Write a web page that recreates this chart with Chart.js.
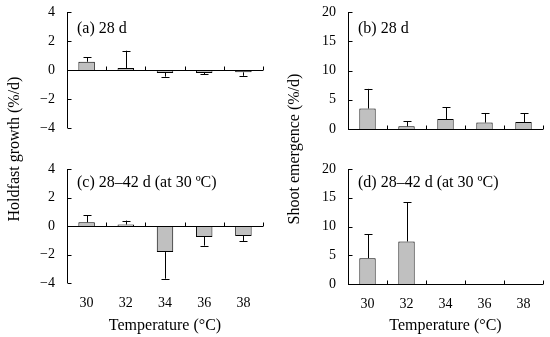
<!DOCTYPE html>
<html>
<head>
<meta charset="utf-8">
<script src="https://cdn.jsdelivr.net/npm/chart.js@4/dist/chart.umd.min.js"></script>
<style>
  body { margin: 0; background: #fff; }
  #wrap { position: relative; width: 550px; height: 337px; font-family: "Liberation Serif", "Times New Roman", serif; }
  canvas { position: absolute; }
  .ytitle { position: absolute; width: 200px; text-align: center; font-size: 16px; line-height: 20px; transform: rotate(-90deg); color: #000; }
</style>
</head>
<body>
<div id="wrap">
  <canvas id="ca" width="275" height="160" style="left:0;top:0"></canvas>
  <canvas id="cb" width="275" height="160" style="left:275px;top:0"></canvas>
  <canvas id="cc" width="275" height="177" style="left:0;top:160px"></canvas>
  <canvas id="cd" width="275" height="177" style="left:275px;top:160px"></canvas>
  <div class="ytitle" style="left:-86px;top:139px">Holdfast growth (%/d)</div>
  <div class="ytitle" style="left:194px;top:139px">Shoot emergence (%/d)</div>
</div>
<script>
// temperatures (°C)
const temps = ['30', '32', '34', '36', '38'];

// holdfast growth (%/d) and error bar ends
const holdfast28 = [0.57, 0.14, -0.2, -0.2, -0.16];
const holdfast28Err = [0.87, 1.33, -0.46, -0.3, -0.4];
const holdfast42 = [0.26, 0.1, -1.83, -0.77, -0.7];
const holdfast42Err = [0.75, 0.38, -3.7, -1.38, -1.05];

// shoot emergence (%/d) and error bar ends
const shoot28 = [3.5, 0.46, 1.7, 1.1, 1.2];
const shoot28Err = [6.86, 1.37, 3.7, 2.74, 2.7];
const shoot42 = [4.5, 7.4, 0, 0, 0];
const shoot42Err = [8.66, 14.2, null, null, null];

const FONT = 'Liberation Serif';

// error bars, axes lines and the panel label
const panelPlugin = {
    id: 'panel',
    afterDatasetsDraw(chart) {
        const ctx = chart.ctx;
        const area = chart.chartArea;
        const xs = chart.scales.x;
        const ys = chart.scales.y;
        const cfg = chart.options.plugins.panel;
        const meta = chart.getDatasetMeta(0);

        ctx.save();
        ctx.strokeStyle = '#000';
        ctx.lineWidth = 1;

        // error bars
        cfg.err.forEach((e, i) => {
            if (e === null) return;
            const bar = meta.data[i];
            const x = Math.round(bar.x) + 0.5;
            const y1 = ys.getPixelForValue(chart.data.datasets[0].data[i]);
            const y2 = ys.getPixelForValue(e);
            ctx.beginPath();
            ctx.moveTo(x, y1);
            ctx.lineTo(x, y2);
            ctx.moveTo(x - 4, Math.round(y2) + 0.5);
            ctx.lineTo(x + 4, Math.round(y2) + 0.5);
            ctx.stroke();
        });

        // y axis line with inward ticks
        const ax = Math.round(area.left) + 0.5;
        ctx.beginPath();
        ctx.moveTo(ax, area.top);
        ctx.lineTo(ax, area.bottom);
        ys.ticks.forEach(t => {
            const y = Math.round(ys.getPixelForValue(t.value)) + 0.5;
            ctx.moveTo(ax, y);
            ctx.lineTo(ax + 4, y);
        });
        ctx.stroke();

        // x axis line at zero with upward ticks between categories
        const y0 = Math.round(ys.getPixelForValue(0)) + 0.5;
        ctx.beginPath();
        ctx.moveTo(area.left, y0);
        ctx.lineTo(area.right, y0);
        for (let i = 0; i < temps.length; i++) {
            const x = Math.round(xs.getPixelForValue(i) + xs.width / temps.length / 2) + 0.5;
            ctx.moveTo(x, y0);
            ctx.lineTo(x, y0 - 4);
        }
        ctx.stroke();

        // panel label
        ctx.fillStyle = '#000';
        ctx.font = '16px "' + FONT + '"';
        ctx.textBaseline = 'middle';
        ctx.fillText(cfg.label, area.left + 10, area.top + cfg.labelDy);
        ctx.restore();
    }
};

function makeChart(id, values, errs, opts) {
    const ctx = document.getElementById(id);
    return new Chart(ctx, {
        type: 'bar',
        data: {
            labels: temps,
            datasets: [{
                data: values,
                backgroundColor: '#c0c0c0',
                borderColor: '#000',
                borderWidth: 1,
                categoryPercentage: 1,
                barPercentage: 0.42
            }]
        },
        options: {
            responsive: false,
            animation: false,
            layout: { padding: { top: opts.top, right: opts.right, left: 0, bottom: 0 } },
            plugins: {
                legend: { display: false },
                tooltip: { enabled: false },
                panel: { err: errs, label: opts.label, labelDy: opts.labelDy }
            },
            scales: {
                x: {
                    grid: { display: false, drawTicks: false },
                    border: { display: false },
                    ticks: {
                        display: opts.bottom,
                        color: '#000',
                        padding: 12,
                        font: { family: FONT, size: 14 }
                    },
                    title: {
                        display: opts.bottom,
                        text: 'Temperature (°C)',
                        color: '#000',
                        font: { family: FONT, size: 16 },
                        padding: { top: 0, bottom: 2 }
                    },
                    afterFit: s => {
                        s.height = opts.xh;
                        s.paddingLeft = 0;
                        s.paddingRight = 0;
                    }
                },
                y: {
                    min: opts.min,
                    max: opts.max,
                    grid: { display: false, drawTicks: false },
                    border: { display: false },
                    ticks: {
                        stepSize: opts.step,
                        color: '#000',
                        padding: opts.pad,
                        font: { family: FONT, size: 14 },
                        callback: v => String(v).replace('-', '\u2212')
                    },
                    afterFit: s => {
                        s.width = opts.yw;
                        s.paddingTop = 0;
                        s.paddingBottom = 0;
                    }
                }
            }
        },
        plugins: [panelPlugin]
    });
}

makeChart('ca', holdfast28, holdfast28Err,
    { min: -4, max: 4, step: 2, top: 12, right: 12, xh: 32, yw: 67, pad: 12, bottom: false, label: '(a) 28 d', labelDy: 17 });
makeChart('cb', shoot28, shoot28Err,
    { min: 0, max: 20, step: 5, top: 12, right: 7, xh: 31, yw: 73, pad: 12, bottom: false, label: '(b) 28 d', labelDy: 17 });
makeChart('cc', holdfast42, holdfast42Err,
    { min: -4, max: 4, step: 2, top: 9, right: 12, xh: 54, yw: 67, pad: 12, bottom: true, label: '(c) 28\u201342 d (at 30 \u00baC)', labelDy: 14 });
makeChart('cd', shoot42, shoot42Err,
    { min: 0, max: 20, step: 5, top: 9, right: 7, xh: 53, yw: 73, pad: 12, bottom: true, label: '(d) 28\u201342 d (at 30 \u00baC)', labelDy: 14 });
</script>
</body>
</html>
